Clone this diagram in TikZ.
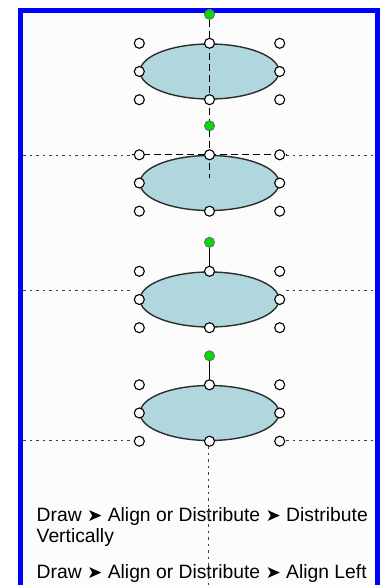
\documentclass[tikz,border=0pt]{standalone}
\usepackage{fontspec}
\setmainfont{Liberation Sans}
\newfontfamily\symfont{DejaVu Sans}
\usetikzlibrary{shapes.geometric,calc}
\definecolor{shapefill}{RGB}{176,215,222}
\definecolor{shapeedge}{RGB}{45,45,45}
\definecolor{rotgreen}{RGB}{10,215,10}
\definecolor{frameblue}{RGB}{0,0,255}
\definecolor{paper}{RGB}{252,252,252}
\newcommand{\sep}{\ {\symfont\scalebox{0.95}[0.9]{➤}}\ }
\tikzset{
  oval/.style={ellipse, draw=shapeedge, line width=1.4pt, fill=shapefill,
    minimum width=139pt, minimum height=55pt, inner sep=0pt},
  handle/.style={circle, draw=black, line width=1.1pt, fill=white,
    minimum size=10pt, inner sep=0pt},
  rothandle/.style={circle, draw=black!60, line width=0.6pt, fill=rotgreen,
    minimum size=10pt, inner sep=0pt},
  rotstem/.style={draw=black, line width=1.3pt},
  guide/.style={draw=black!75, line width=1pt, dash pattern=on 2.5pt off 4pt},
  preview/.style={draw=black, line width=1.4pt, dash pattern=on 7pt off 4pt},
  caption/.style={anchor=base west, inner sep=0pt, font=\fontsize{19.3}{22}\selectfont}
}
\begin{document}
\begin{tikzpicture}[x=1pt,y=-1pt]
  \useasboundingbox (0,0) rectangle (387,585);
  % page and frame
  \fill[paper] (20.5,10.5) rectangle (377.5,600);
  \draw[frameblue, line width=4.3pt] (20.5,600) -- (20.5,10.5) -- (377.5,10.5) -- (377.5,600);

  % guide end points
  \coordinate (gaL) at (23,155.5);   \coordinate (gaR) at (375,155.5);
  \coordinate (gbL) at (23,290);     \coordinate (gbM) at (133,290);
  \coordinate (gbN) at (286,290);    \coordinate (gbR) at (375,290);
  \coordinate (gcL) at (23,440);     \coordinate (gcR) at (375,440);
  \coordinate (gvT) at (208.5,446);  \coordinate (gvB) at (208.5,585);

  % the four ovals
  \node[oval] (e1) at (209.5,71.5) {};
  \node[oval] (e2) at (209.5,183) {};
  \node[oval] (e3) at (209.5,299.5) {};
  \node[oval] (e4) at (209.5,413) {};

  % rotation handles
  \foreach \e in {e1,e2,e3,e4}{
    \node[rothandle] (\e r) at ($(\e.north)+(0,-29)$) {};
  }
  \draw[rotstem] (e3r) -- (e3.north);
  \draw[rotstem] (e4r) -- (e4.north);

  % guides
  \draw[guide] (gaL) -- (e2.west |- gaL);
  \draw[guide] (e2.east |- gaR) -- (gaR);
  \draw[guide] (gbL) -- (gbM);
  \draw[guide] (gbN) -- (gbR);
  \draw[guide] (gcL) -- (e4.west |- gcL);
  \draw[guide] (e4.east |- gcR) -- (gcR);

  % drag preview outline
  \coordinate (pv) at ($(e2.center)+(0,-5)$);
  \draw[preview] (e1r) -- (pv);
  \draw[preview] ($(e2.west |- e2.north)+(-7,0)$) -- ($(e2.east |- e2.north)+(7,0)$);

  % sizing handles
  \foreach \e in {e1,e2,e3,e4}{
    \node[handle] at (\e.west |- \e.north) {};
    \node[handle] at (\e.north) {};
    \node[handle] at (\e.east |- \e.north) {};
    \node[handle] at (\e.west) {};
    \node[handle] at (\e.east) {};
    \node[handle] at (\e.west |- \e.south) {};
    \node[handle] at (\e.south) {};
    \node[handle] at (\e.east |- \e.south) {};
  }
  \foreach \e in {e1,e2,e3,e4}{ \node[rothandle] at (\e r) {}; }

  % menu paths
  \node[caption] (t1) at (36.5,521) {Draw\sep Align or Distribute\sep Distribute};
  \node[caption] (t2) at (36.5,542) {Vertically};
  \node[caption] (t3) at (36.5,578) {Draw\sep Align or Distribute\sep Align Left};
  \draw[guide] (gvT) -- (gvB);
\end{tikzpicture}
\end{document}
